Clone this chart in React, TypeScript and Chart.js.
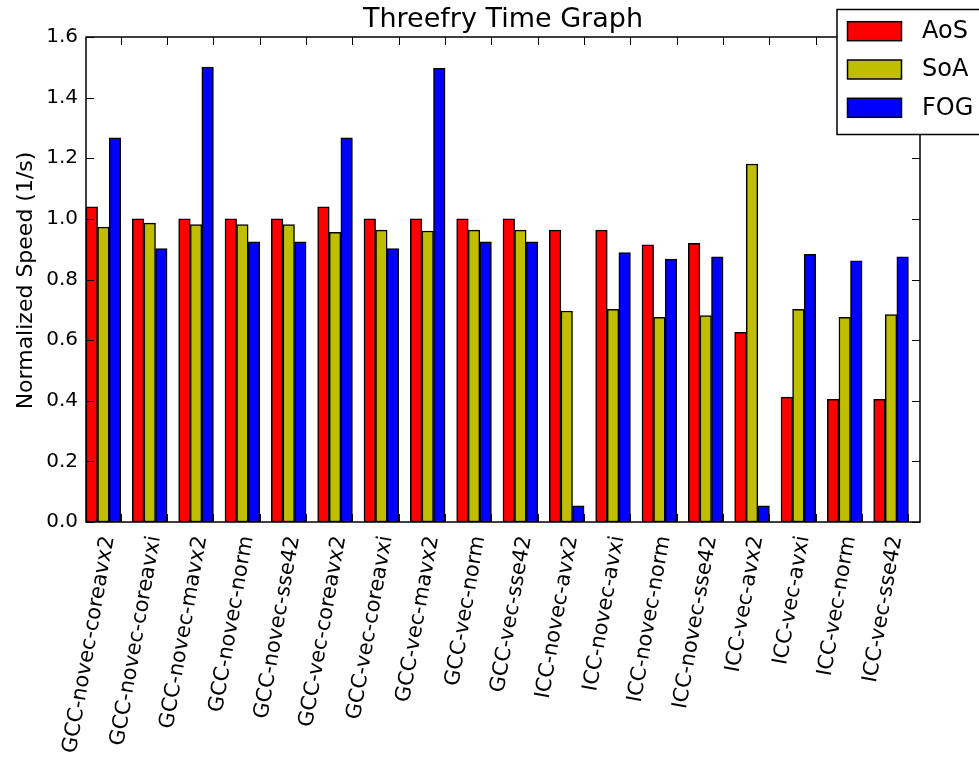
import React, { useEffect, useRef } from "react";
import { Chart, registerables } from "chart.js";

Chart.register(...registerables);

const categories = [
  "GCC-novec-coreavx2",
  "GCC-novec-coreavxi",
  "GCC-novec-mavx2",
  "GCC-novec-norm",
  "GCC-novec-sse42",
  "GCC-vec-coreavx2",
  "GCC-vec-coreavxi",
  "GCC-vec-mavx2",
  "GCC-vec-norm",
  "GCC-vec-sse42",
  "ICC-novec-avx2",
  "ICC-novec-avxi",
  "ICC-novec-norm",
  "ICC-novec-sse42",
  "ICC-vec-avx2",
  "ICC-vec-avxi",
  "ICC-vec-norm",
  "ICC-vec-sse42",
];

const aosValues = [1.04, 1.0, 1.0, 1.0, 1.0, 1.04, 1.0, 1.0, 1.0, 1.0, 0.963, 0.963, 0.914, 0.919, 0.626, 0.412, 0.405, 0.405];
const soaValues = [0.973, 0.986, 0.981, 0.981, 0.981, 0.956, 0.963, 0.96, 0.963, 0.963, 0.696, 0.702, 0.675, 0.681, 1.181, 0.702, 0.675, 0.684];
const fogValues = [1.267, 0.902, 1.501, 0.924, 0.924, 1.267, 0.902, 1.497, 0.924, 0.924, 0.053, 0.889, 0.867, 0.875, 0.053, 0.883, 0.862, 0.875];

const seriesNames = ["AoS", "SoA", "FOG"];
const seriesColors = ["#ff0000", "#bfbf00", "#0000ff"];
const yTicks = [0, 0.2, 0.4, 0.6, 0.8, 1.0, 1.2, 1.4, 1.6];

const FONT = "'DejaVu Sans', sans-serif";

// tick position: right edge of the third bar in each group (3/4 of the category slot)
function tickPixel(xs: any, i: number) {
  const slot = xs.getPixelForValue(1) - xs.getPixelForValue(0);
  return xs.getPixelForValue(i) + slot * 0.25;
}

const decorPlugin = {
  id: "decor",
  afterDraw(chart: any) {
    const ctx = chart.ctx;
    const area = chart.chartArea;
    const xs = chart.scales.x;
    const ys = chart.scales.y;
    ctx.save();
    // frame
    ctx.strokeStyle = "#000";
    ctx.lineWidth = 1.5;
    ctx.strokeRect(area.left, area.top, area.right - area.left, area.bottom - area.top);
    // inward ticks
    ctx.lineWidth = 1;
    const tl = 8;
    categories.forEach((_, i) => {
      const px = Math.round(tickPixel(xs, i)) + 0.5;
      ctx.beginPath();
      ctx.moveTo(px, area.top);
      ctx.lineTo(px, area.top + tl);
      ctx.moveTo(px, area.bottom);
      ctx.lineTo(px, area.bottom - tl);
      ctx.stroke();
    });
    yTicks.forEach((v) => {
      const py = Math.round(ys.getPixelForValue(v)) + 0.5;
      ctx.beginPath();
      ctx.moveTo(area.left, py);
      ctx.lineTo(area.left + tl, py);
      ctx.moveTo(area.right, py);
      ctx.lineTo(area.right - tl, py);
      ctx.stroke();
    });
    // rotated category labels
    ctx.fillStyle = "#000";
    ctx.font = `21px ${FONT}`;
    ctx.textAlign = "right";
    ctx.textBaseline = "alphabetic";
    const rot = (-80 * Math.PI) / 180;
    categories.forEach((label, i) => {
      const px = tickPixel(xs, i);
      ctx.save();
      ctx.translate(px - 7, area.bottom + 15);
      ctx.rotate(rot);
      ctx.fillText(label, 0, 0);
      ctx.restore();
    });
    // title
    ctx.font = `27px ${FONT}`;
    ctx.textAlign = "center";
    ctx.textBaseline = "alphabetic";
    ctx.fillText("Threefry Time Graph", (area.left + area.right) / 2, 27);
    // y axis title
    ctx.save();
    ctx.translate(32, (area.top + area.bottom) / 2 + 1);
    ctx.rotate(-Math.PI / 2);
    ctx.font = `22px ${FONT}`;
    ctx.textAlign = "center";
    ctx.textBaseline = "alphabetic";
    ctx.fillText("Normalized Speed (1/s)", 0, 0);
    ctx.restore();
    // legend
    const lx = 837, ly = 9.5, lw = 160, lh = 125;
    ctx.fillStyle = "#fff";
    ctx.fillRect(lx, ly, lw, lh);
    ctx.lineWidth = 1.5;
    ctx.strokeStyle = "#000";
    ctx.strokeRect(lx, ly, lw, lh);
    seriesNames.forEach((name, i) => {
      const py = 21.7 + i * 38.3;
      ctx.fillStyle = seriesColors[i];
      ctx.fillRect(847.5, py, 54, 19);
      ctx.lineWidth = 1.5;
      ctx.strokeStyle = "#000";
      ctx.strokeRect(847.5, py, 54, 19);
      ctx.fillStyle = "#000";
      ctx.font = `24px ${FONT}`;
      ctx.textAlign = "left";
      ctx.textBaseline = "middle";
      ctx.fillText(name, 922, py + 10);
    });
    ctx.restore();
  },
};

export default function App() {
  const ref = useRef<HTMLCanvasElement | null>(null);

  useEffect(() => {
    if (!ref.current) return;
    const datasets: any[] = [aosValues, soaValues, fogValues].map((vals, i) => ({
      label: seriesNames[i],
      data: vals,
      backgroundColor: seriesColors[i],
      borderColor: "#000",
      borderWidth: 1.5,
      borderSkipped: false,
    }));
    // empty spacer series for the gap between groups
    datasets.push({
      label: "",
      data: categories.map(() => null),
      backgroundColor: "transparent",
      borderWidth: 0,
    });

    const chart = new Chart(ref.current, {
      type: "bar",
      data: { labels: categories, datasets },
      options: {
        responsive: false,
        animation: false,
        layout: { padding: { top: 37, right: 59, left: 0, bottom: 0 } },
        datasets: { bar: { categoryPercentage: 1, barPercentage: 1 } },
        plugins: {
          legend: { display: false },
          title: { display: false },
          tooltip: { enabled: false },
        },
        scales: {
          x: {
            type: "category",
            offset: true,
            afterFit: (scale: any) => {
              scale.height = 239;
              scale.paddingLeft = 0;
              scale.paddingRight = 0;
            },
            grid: { display: false, drawTicks: false },
            border: { display: false },
            ticks: { display: false },
          },
          y: {
            min: 0,
            max: 1.6,
            afterBuildTicks: (scale: any) => {
              scale.ticks = yTicks.map((v) => ({ value: v }));
            },
            afterFit: (scale: any) => {
              scale.width = 86;
            },
            grid: { display: false, drawTicks: false },
            border: { display: false },
            ticks: {
              padding: 8,
              color: "#000",
              font: { family: FONT, size: 20 },
              callback: (value: any) => Number(value).toFixed(1),
            },
          },
        },
      },
      plugins: [decorPlugin],
    });
    return () => chart.destroy();
  }, []);

  return (
    <div style={{ position: "absolute", left: 0, top: 0, width: 979, height: 761, background: "#fff" }}>
      <canvas ref={ref} width={979} height={761} style={{ display: "block" }} />
    </div>
  );
}
